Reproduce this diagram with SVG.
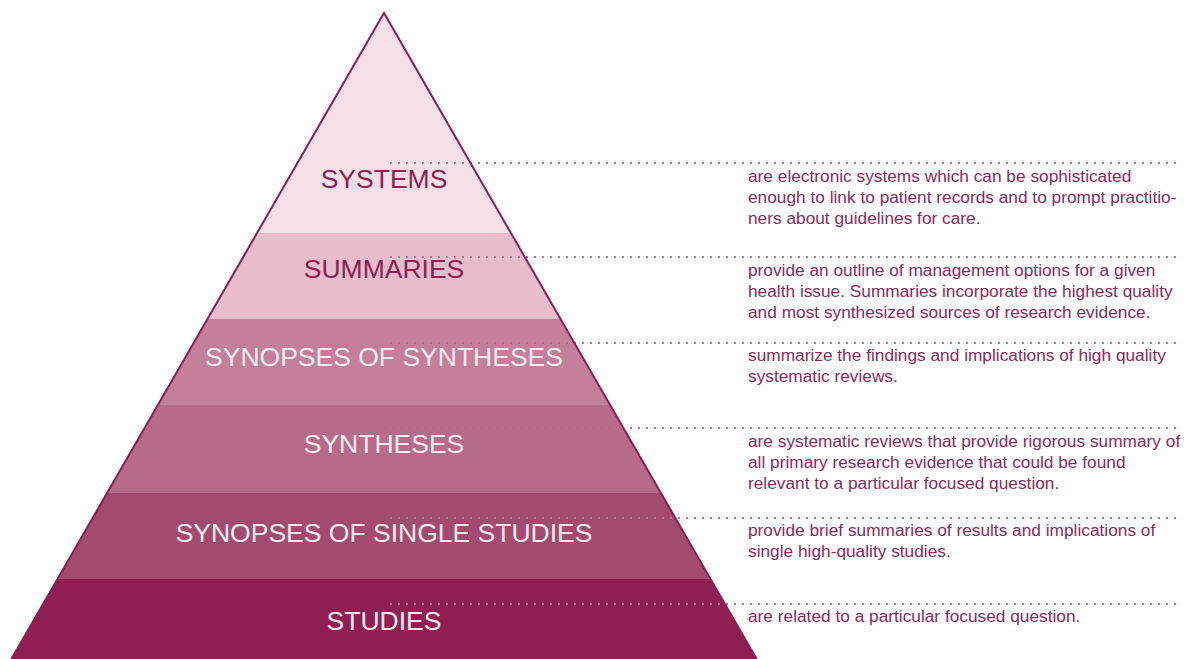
<svg xmlns="http://www.w3.org/2000/svg" width="1186" height="659" viewBox="0 0 1186 659">
  <style>
    .lbl { font-family: "Liberation Sans", Arial, sans-serif; font-size: 26.5px; text-anchor: middle; }
    .dark { fill: #8e1e50; }
    .light { fill: #f7ecf1; }
    .desc { font-family: "Liberation Sans", Arial, sans-serif; font-size: 17.3px; fill: #8e2a5a; }
    .dots { stroke: #b27390; stroke-width: 2; stroke-dasharray: 2 6; fill: none; }
  </style>
  <defs>
    <clipPath id="tri">
      <polygon points="384,13 763,670 5,670"/>
    </clipPath>
  </defs>
  <rect width="1186" height="659" fill="#ffffff"/>

  <g clip-path="url(#tri)">
    <rect x="0" y="0" width="800" height="233" fill="#f6e0e8"/>
    <rect x="0" y="233" width="800" height="86" fill="#e7bccb"/>
    <rect x="0" y="319" width="800" height="86" fill="#c47f99"/>
    <rect x="0" y="405" width="800" height="88" fill="#b66b88"/>
    <rect x="0" y="493" width="800" height="86" fill="#a24a70"/>
    <rect x="0" y="579" width="800" height="91" fill="#8f1f51"/>
  </g>

  <g id="connectors">
    <line class="dots" x1="390" y1="163" x2="1182" y2="163"/>
    <line class="dots" x1="390" y1="257" x2="1182" y2="257"/>
    <line class="dots" x1="390" y1="343" x2="1182" y2="343"/>
    <line class="dots" x1="390" y1="428" x2="1182" y2="428"/>
    <line class="dots" x1="390" y1="518" x2="1182" y2="518"/>
    <line class="dots" x1="390" y1="604" x2="1182" y2="604"/>
  </g>

  <polyline points="5,670 384,13 763,670" fill="none" stroke="#8e1e50" stroke-width="2"/>

  <g id="systems">
    <text class="lbl dark" x="384" y="188">SYSTEMS</text>
    <text class="desc" x="748" y="182">are electronic systems which can be sophisticated</text>
    <text class="desc" x="748" y="203">enough to link to patient records and to prompt practitio-</text>
    <text class="desc" x="748" y="224">ners about guidelines for care.</text>
  </g>

  <g id="summaries">
    <text class="lbl dark" x="384" y="278">SUMMARIES</text>
    <text class="desc" x="748" y="276">provide an outline of management options for a given</text>
    <text class="desc" x="748" y="297">health issue. Summaries incorporate the highest quality</text>
    <text class="desc" x="748" y="318">and most synthesized sources of research evidence.</text>
  </g>

  <g id="synopses-of-syntheses">
    <text class="lbl light" x="384" y="366">SYNOPSES OF SYNTHESES</text>
    <text class="desc" x="748" y="361">summarize the findings and implications of high quality</text>
    <text class="desc" x="748" y="382">systematic reviews.</text>
  </g>

  <g id="syntheses">
    <text class="lbl light" x="384" y="453">SYNTHESES</text>
    <text class="desc" x="748" y="447">are systematic reviews that provide rigorous summary of</text>
    <text class="desc" x="748" y="468">all primary research evidence that could be found</text>
    <text class="desc" x="748" y="489">relevant to a particular focused question.</text>
  </g>

  <g id="synopses-of-single-studies">
    <text class="lbl light" x="384" y="542">SYNOPSES OF SINGLE STUDIES</text>
    <text class="desc" x="748" y="536">provide brief summaries of results and implications of</text>
    <text class="desc" x="748" y="557">single high-quality studies.</text>
  </g>

  <g id="studies">
    <text class="lbl light" x="384" y="630">STUDIES</text>
    <text class="desc" x="748" y="622">are related to a particular focused question.</text>
  </g>
</svg>
